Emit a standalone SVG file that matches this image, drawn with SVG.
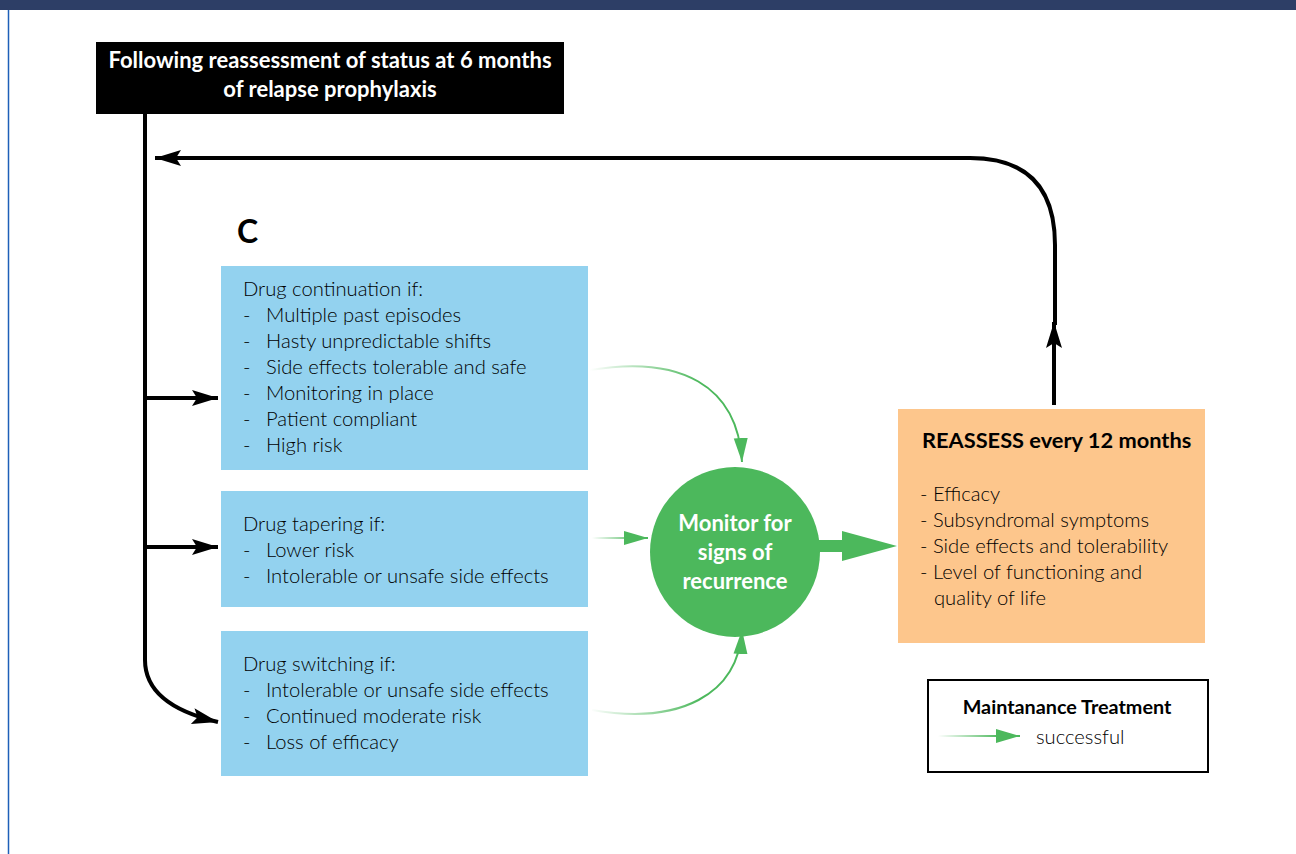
<svg xmlns="http://www.w3.org/2000/svg" width="1296" height="854" viewBox="0 0 1296 854">
<style>
.hdr{font-family:Lato,"Open Sans",sans-serif;font-weight:700;font-size:22px;fill:#fff}
.t{font-family:Lato,"Open Sans",sans-serif;font-weight:300;font-size:20.2px;fill:#000}
.b{font-family:Lato,"Open Sans",sans-serif;font-weight:700;fill:#000}
.ctext{font-family:Lato,"Open Sans",sans-serif;font-weight:700;font-size:22px;fill:#fff}
.blk{fill:none;stroke:#000;stroke-width:4}
.grn{fill:none;stroke-width:2}
.box{fill:#93d2ef}
</style>
<defs>
<marker id="ah" markerUnits="userSpaceOnUse" markerWidth="28" markerHeight="20" refX="26" refY="10" orient="auto">
<path d="M0,2 L26,10 L0,18 L5,10 Z" fill="#000"/>
</marker>
<marker id="gh" markerUnits="userSpaceOnUse" markerWidth="26" markerHeight="20" refX="24" refY="10" orient="auto">
<path d="M0,3 L24,10 L0,17 Z" fill="#4cb85c"/>
</marker>
<linearGradient id="g1" gradientUnits="userSpaceOnUse" x1="590" y1="0" x2="700" y2="0">
<stop offset="0" stop-color="#4cb85c" stop-opacity="0"/><stop offset="1" stop-color="#4cb85c"/>
</linearGradient>
<linearGradient id="g2" gradientUnits="userSpaceOnUse" x1="592" y1="0" x2="640" y2="0">
<stop offset="0" stop-color="#4cb85c" stop-opacity="0"/><stop offset="1" stop-color="#4cb85c"/>
</linearGradient>
<linearGradient id="g4" gradientUnits="userSpaceOnUse" x1="938" y1="0" x2="1000" y2="0">
<stop offset="0" stop-color="#4cb85c" stop-opacity="0"/><stop offset="1" stop-color="#4cb85c"/>
</linearGradient>
</defs>
<rect width="1296" height="854" fill="#fff"/>
<rect x="0" y="0" width="1296" height="10" fill="#2d3e66"/>
<line x1="8.5" y1="10" x2="8.5" y2="854" stroke="#1e5fb8" stroke-width="1.5"/>

<g id="start">
<rect x="96" y="42" width="468" height="72" fill="#000"/>
<text class="hdr" x="330" y="68" text-anchor="middle">Following reassessment of status at 6 months</text>
<text class="hdr" x="330" y="97" text-anchor="middle">of relapse prophylaxis</text>
</g>

<text class="b" x="237" y="243" font-size="32">C</text>

<g id="continuation">
<rect class="box" x="221" y="266" width="367" height="204"/>
<text class="t" x="243" y="296">Drug continuation if:</text>
<text class="t" x="243" y="322">-</text><text class="t" x="266" y="322">Multiple past episodes</text>
<text class="t" x="243" y="348">-</text><text class="t" x="266" y="348">Hasty unpredictable shifts</text>
<text class="t" x="243" y="374">-</text><text class="t" x="266" y="374">Side effects tolerable and safe</text>
<text class="t" x="243" y="400">-</text><text class="t" x="266" y="400">Monitoring in place</text>
<text class="t" x="243" y="426">-</text><text class="t" x="266" y="426">Patient compliant</text>
<text class="t" x="243" y="452">-</text><text class="t" x="266" y="452">High risk</text>
</g>

<g id="tapering">
<rect class="box" x="221" y="491" width="367" height="116"/>
<text class="t" x="243" y="531">Drug tapering if:</text>
<text class="t" x="243" y="557">-</text><text class="t" x="266" y="557">Lower risk</text>
<text class="t" x="243" y="583">-</text><text class="t" x="266" y="583">Intolerable or unsafe side effects</text>
</g>

<g id="switching">
<rect class="box" x="221" y="631" width="367" height="145"/>
<text class="t" x="243" y="671">Drug switching if:</text>
<text class="t" x="243" y="697">-</text><text class="t" x="266" y="697">Intolerable or unsafe side effects</text>
<text class="t" x="243" y="723">-</text><text class="t" x="266" y="723">Continued moderate risk</text>
<text class="t" x="243" y="749">-</text><text class="t" x="266" y="749">Loss of efficacy</text>
</g>

<g id="monitor">
<circle cx="735" cy="552" r="85" fill="#4cb85c"/>
<text class="ctext" x="735" y="531" text-anchor="middle">Monitor for</text>
<text class="ctext" x="735" y="560" text-anchor="middle">signs of</text>
<text class="ctext" x="735" y="589" text-anchor="middle">recurrence</text>
</g>

<g id="reassess">
<rect x="898" y="409" width="307" height="234" fill="#fdc68c"/>
<text class="b" x="922" y="448" font-size="21.8">REASSESS every 12 months</text>
<text class="t" x="920" y="501">- Efficacy</text>
<text class="t" x="920" y="527">- Subsyndromal symptoms</text>
<text class="t" x="920" y="553">- Side effects and tolerability</text>
<text class="t" x="920" y="579">- Level of functioning and</text>
<text class="t" x="934" y="605">quality of life</text>
</g>

<g id="legend">
<rect x="928" y="680" width="280" height="92" fill="#fff" stroke="#000" stroke-width="2"/>
<text class="b" x="1067" y="714" font-size="19.8" text-anchor="middle">Maintanance Treatment</text>
<path d="M938,736 L1020,736" class="grn" stroke="url(#g4)" stroke-width="3" marker-end="url(#gh)"/>
<text class="t" x="1036" y="744" font-size="19">successful</text>
</g>

<g id="connectors">
<path class="blk" d="M145,114 L145,660 Q145,705 218,722" marker-end="url(#ah)"/>
<path class="blk" d="M145,398 L218,398" marker-end="url(#ah)"/>
<path class="blk" d="M145,547 L218,547" marker-end="url(#ah)"/>
<path class="blk" d="M1054,405 L1054,322" marker-end="url(#ah)"/>
<path class="blk" d="M1055,325 L1055,245 Q1055,158 970,158 L155,158" marker-end="url(#ah)"/>
<path class="grn" stroke="url(#g1)" d="M590,370 C680,355 738,385 742,462" marker-end="url(#gh)"/>
<path class="grn" stroke="url(#g2)" stroke-width="3" d="M592,538 L648,538" marker-end="url(#gh)"/>
<path class="grn" stroke="url(#g1)" d="M592,710 C680,725 738,695 742,630" marker-end="url(#gh)"/>
<path fill="none" stroke="#4cb85c" stroke-width="12" d="M812,546 L848,546"/>
<path d="M842,531 L897,546 L842,561 Z" fill="#4cb85c"/>
</g>
</svg>
